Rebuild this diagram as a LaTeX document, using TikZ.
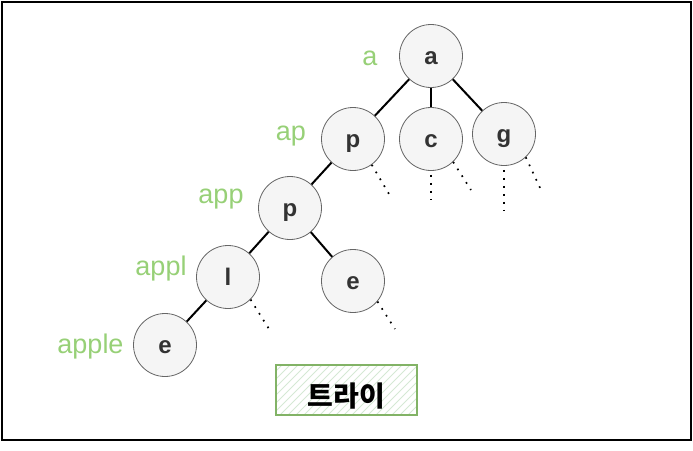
\documentclass[tikz,border=0pt]{standalone}
\usepackage{fontspec}
\setmainfont{Liberation Sans}
\newfontfamily\kr{Noto Sans CJK KR}
\definecolor{nodefill}{HTML}{F5F5F5}
\definecolor{nodedraw}{HTML}{666666}
\definecolor{nodetext}{HTML}{333333}
\definecolor{lbl}{HTML}{97D077}
\definecolor{boxdraw}{HTML}{82B366}
\definecolor{hatchc}{HTML}{D5E8D4}
\tikzset{
  trienode/.style={circle, draw=nodedraw, fill=nodefill, minimum size=63pt, inner sep=0pt,
    line width=0.8pt, font=\fontsize{24}{24}\selectfont\bfseries, text=nodetext,
    text height=16.5pt, text depth=0pt},
  prefixlbl/.style={text=lbl, font=\fontsize{27}{27}\selectfont, anchor=base, inner sep=0pt},
  trieedge/.style={line width=2pt, black},
  dotline/.style={line width=1.7pt, dash pattern=on 1.7pt off 6.3pt},
  titlebox/.style={draw=boxdraw, line width=1.2pt, minimum width=141pt, minimum height=50pt,
    inner sep=0pt, font=\kr\bfseries\fontsize{28}{28}\selectfont, text=black,
    text height=35pt, text depth=3pt,
    path picture={\foreach \i in {0,8,...,208}
      \draw[hatchc, line width=1pt] ([xshift=\i pt-60pt]path picture bounding box.south west) -- ++(60pt,60pt);}},
  outerframe/.style={line width=2pt, black}
}
\begin{document}
\begin{tikzpicture}[x=1pt,y=-1pt]
\useasboundingbox (0,0) rectangle (693,450);
\draw[outerframe] (2,2) rectangle (691,440);

\node[trienode] (a) at (431,56) {a};
\node[trienode] (p1) at (353,139) {p};
\node[trienode] (c) at (431,139) {c};
\node[trienode] (g) at (504,134) {g};
\node[trienode] (p2) at (290,208) {p};
\node[trienode] (l) at (228,277) {l};
\node[trienode] (e2) at (353,281) {e};
\node[trienode] (e1) at (165,345) {e};

\draw[trieedge] (a) -- (p1);
\draw[trieedge] (a) -- (c);
\draw[trieedge] (a) -- (g);
\draw[trieedge] (p1) -- (p2);
\draw[trieedge] (p2) -- (l);
\draw[trieedge] (p2) -- (e2);
\draw[trieedge] (l) -- (e1);

\coordinate (p1d) at (389,194);
\coordinate (cd1) at (431,200);
\coordinate (cd2) at (471,190);
\coordinate (gd1) at (504,210);
\coordinate (gd2) at (541,190);
\coordinate (ld) at (269,329);
\coordinate (e2d) at (395,329);

\draw[dotline] (p1.-54) -- (p1d);
\draw[dotline] ([yshift=-4pt]c.south) -- (cd1);
\draw[dotline] (c.-46) -- (cd2);
\draw[dotline] ([yshift=-4pt]g.south) -- (gd1);
\draw[dotline] (g.-47) -- (gd2);
\draw[dotline] (l.-45) -- (ld);
\draw[dotline] (e2.-40) -- (e2d);

\node[prefixlbl] (la) at (370,65) {a};
\node[prefixlbl] (lap) at (291,140) {ap};
\node[prefixlbl] (lapp) at (221,203) {app};
\node[prefixlbl] (lappl) at (161,275) {appl};
\node[prefixlbl] (lapple) at (90.5,353) {apple};

\node[titlebox] (title) at (346.5,390) {트라이};
\end{tikzpicture}
\end{document}
